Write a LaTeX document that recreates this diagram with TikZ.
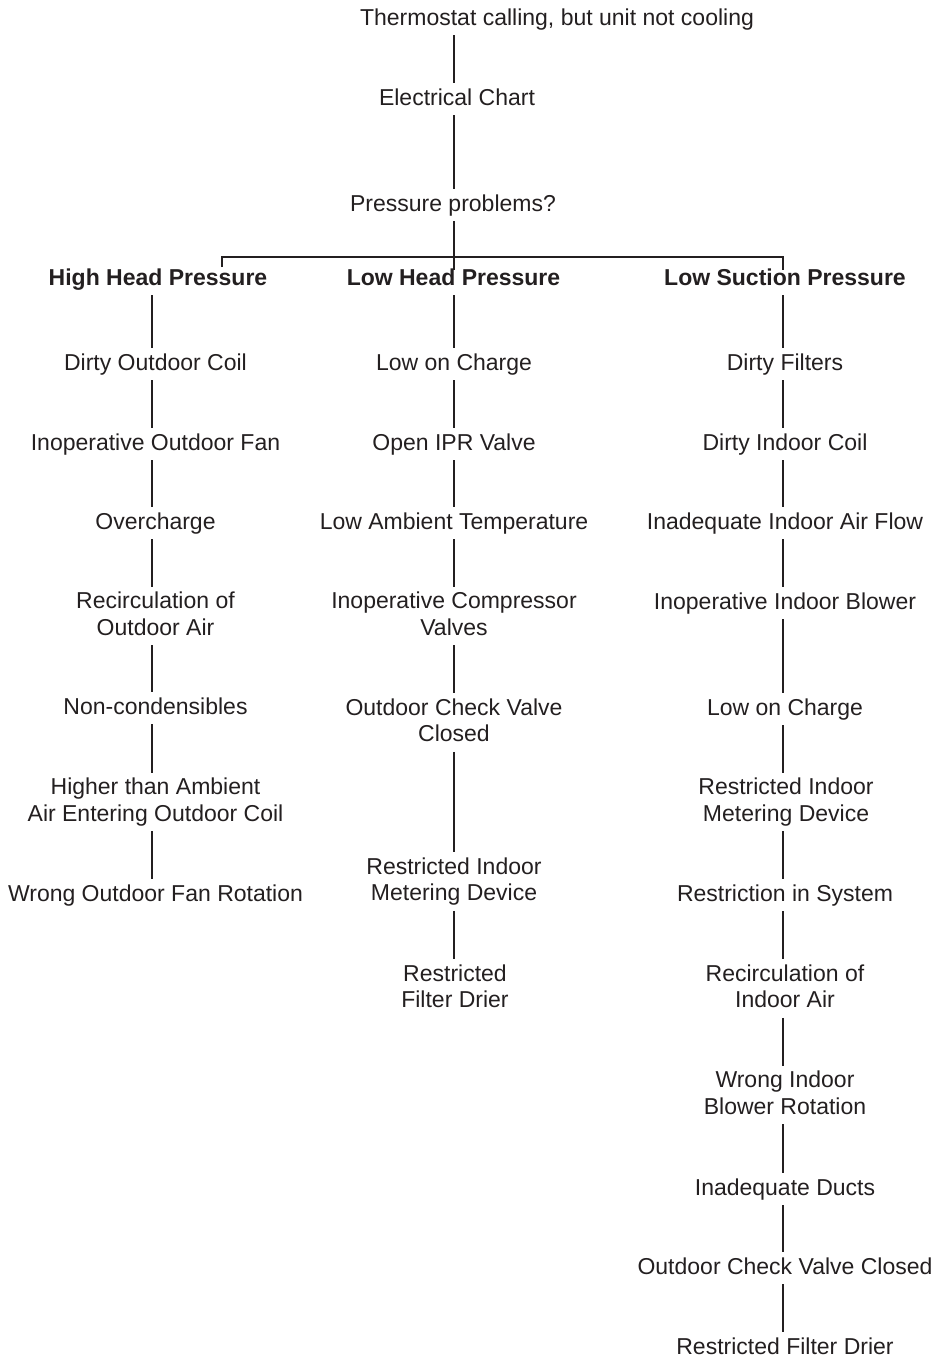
\documentclass[tikz,border=0pt]{standalone}
\usepackage{fontspec}
\setmainfont{Liberation Sans}
\definecolor{ink}{HTML}{231F20}
\begin{document}
\begin{tikzpicture}[x=1pt,y=-1pt,
  lab/.style={inner xsep=0pt, inner ysep=5pt, align=center, text=ink,
    font=\fontsize{23}{26.5}\selectfont, yshift=-2.2pt,
    execute at begin node={\rule{0pt}{17pt}},
    execute at end node={\rule[-5pt]{0pt}{5pt}}},
  hdr/.style={lab, font=\fontsize{23}{26.5}\selectfont\bfseries},
  conn/.style={draw=ink, line width=1.2pt}]
\useasboundingbox (0,0) rectangle (938,1360);
% column line positions
\coordinate (cT) at (454,0);
\coordinate (cL) at (152,0);
\coordinate (cM) at (454,0);
\coordinate (cR) at (783,0);
% top
\node[lab] (T) at (557,17) {Thermostat calling, but unit not cooling};
\node[lab] (E) at (457,97) {Electrical Chart};
\node[lab] (P) at (453,203) {Pressure problems?};
\node[hdr] (H1) at (158,277) {High Head Pressure};
\node[hdr] (H2) at (453.5,277) {Low Head Pressure};
\node[hdr] (H3) at (785,277) {Low Suction Pressure};
% left column
\node[lab] (L1) at (155.5,362) {Dirty Outdoor Coil};
\node[lab] (L2) at (155.5,442) {Inoperative Outdoor Fan};
\node[lab] (L3) at (155.5,521) {Overcharge};
\node[lab] (L4) at (155.5,614) {Recirculation of\\Outdoor Air};
\node[lab] (L5) at (155.5,706) {Non-condensibles};
\node[lab] (L6) at (155.5,800) {Higher than Ambient\\Air Entering Outdoor Coil};
\node[lab] (L7) at (155.5,893) {Wrong Outdoor Fan Rotation};
% middle column
\node[lab] (M1) at (454,362) {Low on Charge};
\node[lab] (M2) at (454,442) {Open IPR Valve};
\node[lab] (M3) at (454,521) {Low Ambient Temperature};
\node[lab] (M4) at (454,614) {Inoperative Compressor\\Valves};
\node[lab] (M5) at (454,720.5) {Outdoor Check Valve\\Closed};
\node[lab] (M6) at (454,879.5) {Restricted Indoor\\Metering Device};
\node[lab] (M7) at (455,986.5) {Restricted\\Filter Drier};
% right column
\node[lab] (R1) at (785,362) {Dirty Filters};
\node[lab] (R2) at (785,442) {Dirty Indoor Coil};
\node[lab] (R3) at (785,521) {Inadequate Indoor Air Flow};
\node[lab] (R4) at (785,601) {Inoperative Indoor Blower};
\node[lab] (R5) at (785,707) {Low on Charge};
\node[lab] (R6) at (786,800) {Restricted Indoor\\Metering Device};
\node[lab] (R7) at (785,893) {Restriction in System};
\node[lab] (R8) at (785,986.5) {Recirculation of\\Indoor Air};
\node[lab] (R9) at (785,1093) {Wrong Indoor\\Blower Rotation};
\node[lab] (R10) at (785,1187) {Inadequate Ducts};
\node[lab] (R11) at (785,1266) {Outdoor Check Valve Closed};
\node[lab] (R12) at (785,1346) {Restricted Filter Drier};
% branching bar
\coordinate (bar) at (454,257);
\coordinate (jL) at (222,267);
\coordinate (jM) at (454,270);
\coordinate (jR) at (783,270);
% connectors
\draw[conn] (T.south -| cT) -- (E.north -| cT);
\draw[conn] (E.south -| cT) -- (P.north -| cT);
\draw[conn] (P.south -| cT) -- (jM);
\draw[conn] (jL) -- (jL |- bar) -- (jR |- bar) -- (jR);
\draw[conn] (H1.south -| cL) -- (L1.north -| cL);
\draw[conn] (L1.south -| cL) -- (L2.north -| cL);
\draw[conn] (L2.south -| cL) -- (L3.north -| cL);
\draw[conn] (L3.south -| cL) -- (L4.north -| cL);
\draw[conn] (L4.south -| cL) -- (L5.north -| cL);
\draw[conn] (L5.south -| cL) -- (L6.north -| cL);
\draw[conn] (L6.south -| cL) -- (L7.north -| cL);
\draw[conn] (H2.south -| cM) -- (M1.north -| cM);
\draw[conn] (M1.south -| cM) -- (M2.north -| cM);
\draw[conn] (M2.south -| cM) -- (M3.north -| cM);
\draw[conn] (M3.south -| cM) -- (M4.north -| cM);
\draw[conn] (M4.south -| cM) -- (M5.north -| cM);
\draw[conn] (M5.south -| cM) -- (M6.north -| cM);
\draw[conn] (M6.south -| cM) -- (M7.north -| cM);
\draw[conn] (H3.south -| cR) -- (R1.north -| cR);
\draw[conn] (R1.south -| cR) -- (R2.north -| cR);
\draw[conn] (R2.south -| cR) -- (R3.north -| cR);
\draw[conn] (R3.south -| cR) -- (R4.north -| cR);
\draw[conn] (R4.south -| cR) -- (R5.north -| cR);
\draw[conn] (R5.south -| cR) -- (R6.north -| cR);
\draw[conn] (R6.south -| cR) -- (R7.north -| cR);
\draw[conn] (R7.south -| cR) -- (R8.north -| cR);
\draw[conn] (R8.south -| cR) -- (R9.north -| cR);
\draw[conn] (R9.south -| cR) -- (R10.north -| cR);
\draw[conn] (R10.south -| cR) -- (R11.north -| cR);
\draw[conn] (R11.south -| cR) -- (R12.north -| cR);
\end{tikzpicture}
\end{document}
